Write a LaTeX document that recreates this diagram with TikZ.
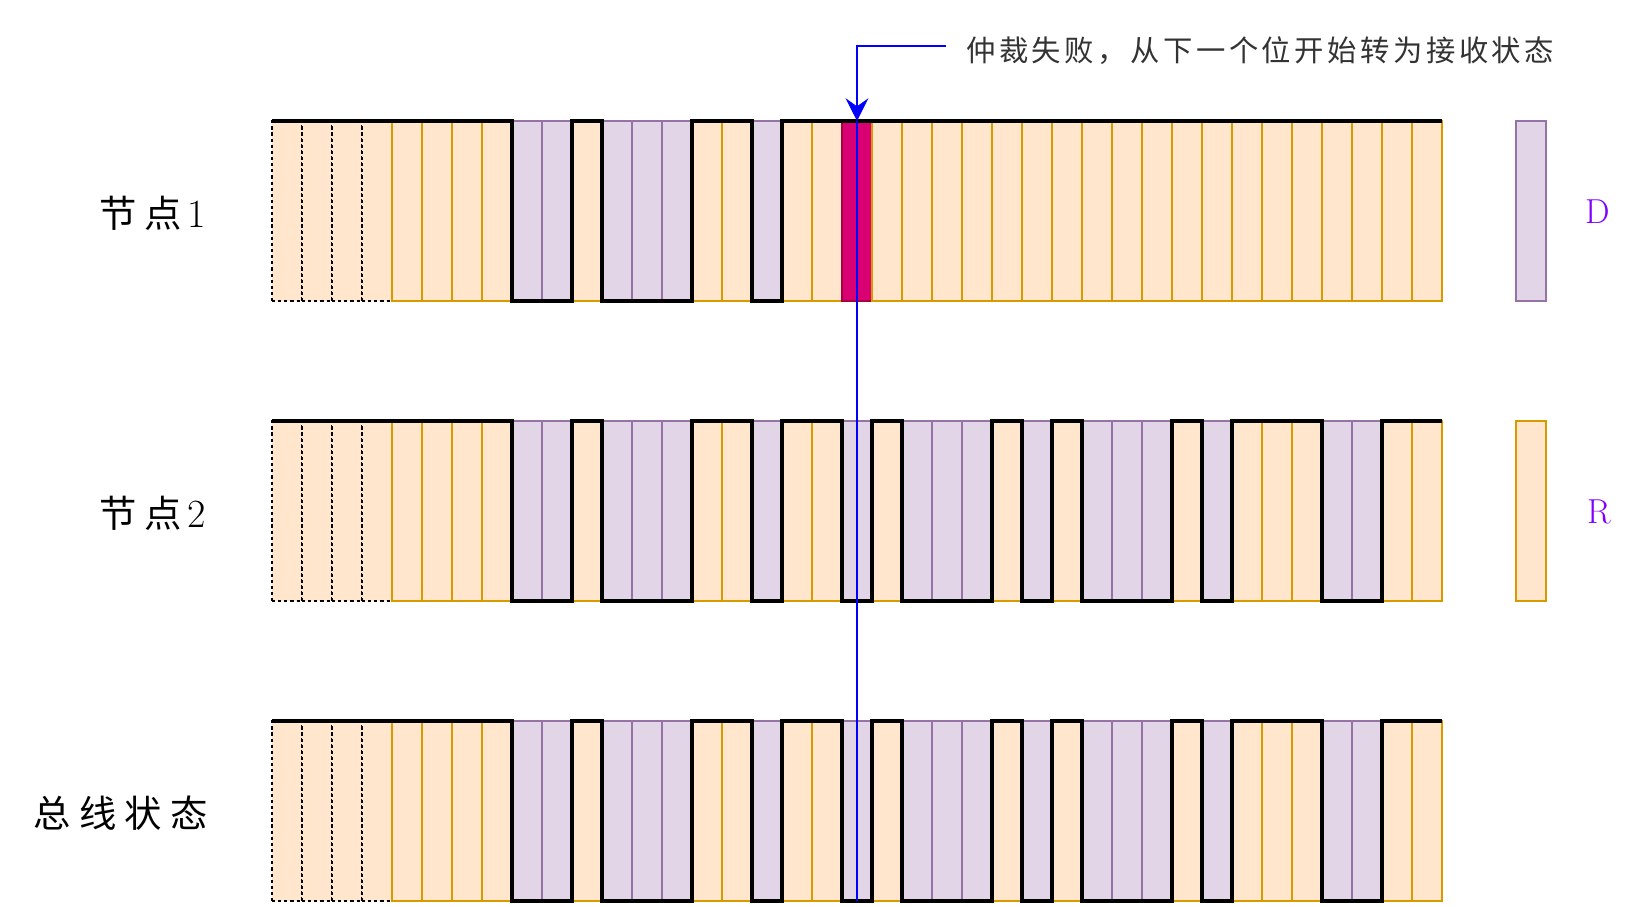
\documentclass[tikz,border=0pt]{standalone}
\usepackage{fontspec}
\newfontfamily\cjklabel{Noto Sans CJK SC}[LetterSpace=22]
\newfontfamily\cjknote{Noto Sans CJK SC}[LetterSpace=12]
\usetikzlibrary{arrows.meta}
\definecolor{xRecFill}{HTML}{FFE6CC}
\definecolor{xRecLine}{HTML}{D79B00}
\definecolor{xDomFill}{HTML}{E1D5E7}
\definecolor{xDomLine}{HTML}{9673A6}
\definecolor{xLostFill}{HTML}{D80073}
\definecolor{xLostLine}{HTML}{A50040}
\definecolor{xBlue}{HTML}{0000FF}
\definecolor{xViolet}{HTML}{7F00FF}
\tikzset{
  bitbox/.style={rectangle, minimum width=22.5pt, minimum height=135pt, inner sep=0pt, outer sep=0pt, line width=1.8pt},
  rec/.style={bitbox, fill=xRecFill, draw=xRecLine},
  dom/.style={bitbox, fill=xDomFill, draw=xDomLine},
  lost/.style={bitbox, fill=xLostFill, draw=xLostLine},
  idle/.style={bitbox, fill=xRecFill, draw=black, line width=2.2pt, dash pattern=on 2.4pt off 2.2pt},
  bitcode/.code={\ifcase#1\relax\pgfkeysalso{/tikz/rec}\or\pgfkeysalso{/tikz/dom}\or\pgfkeysalso{/tikz/lost}\or\pgfkeysalso{/tikz/idle}\fi},
  wave/.style={black, line width=2.4pt},
  rowlabel/.style={anchor=east, inner sep=0pt, font=\cjklabel\fontsize{28pt}{33pt}\selectfont},
  note/.style={anchor=west, inner xsep=15pt, inner ysep=0pt, text height=25.5pt, text depth=2.5pt,
               text=black!80, font=\cjknote\fontsize{22pt}{26pt}\selectfont},
  levelname/.style={text=xViolet, inner sep=0pt, font=\fontsize{26pt}{30pt}\selectfont},
  flag/.style={-{Stealth[length=17pt, width=17pt, inset=6pt]}, xBlue, line width=1.9pt},
  cut/.style={xBlue, line width=1.9pt},
}
% 0 = recessive, 1 = dominant, 2 = lost bit, 3 = idle
\newcommand{\nodeonebits}{3,3,3,3,0,0,0,0,1,1,0,1,1,1,0,0,1,0,0,2,0,0,0,0,0,0,0,0,0,0,0,0,0,0,0,0,0,0,0}
\newcommand{\busbits}{3,3,3,3,0,0,0,0,1,1,0,1,1,1,0,0,1,0,0,1,0,1,1,1,0,1,0,1,1,1,0,1,0,0,0,1,1,0,0}
\newcommand{\nodenum}[1]{\hspace{4pt}{\rmfamily\fontsize{30pt}{34pt}\selectfont #1}}

\begin{document}
\begin{tikzpicture}[x=0.75pt, y=-0.75pt]
    \useasboundingbox (0,0) rectangle (1626,906);
    \foreach \bc [count=\i from 0] in \nodeonebits
      \node[bitcode=\bc] (n1-\i) at (287+30*\i, 211) {};
    \foreach \bc [count=\i from 0] in \busbits
      \node[bitcode=\bc] (n2-\i) at (287+30*\i, 511) {};
    \foreach \bc [count=\i from 0] in \busbits
      \node[bitcode=\bc] (bus-\i) at (287+30*\i, 811) {};
    \draw[wave] (n1-0.north west) foreach \bc [count=\i from 0] in \nodeonebits
      { -- (272+30*\i, {121+180*(\bc==1)}) -- (302+30*\i, {121+180*(\bc==1)}) };
    \draw[wave] (n2-0.north west) foreach \bc [count=\i from 0] in \busbits
      { -- (272+30*\i, {421+180*(\bc==1)}) -- (302+30*\i, {421+180*(\bc==1)}) };
    \draw[wave] (bus-0.north west) foreach \bc [count=\i from 0] in \busbits
      { -- (272+30*\i, {721+180*(\bc==1)}) -- (302+30*\i, {721+180*(\bc==1)}) };
    \node[rowlabel] (lab1) at (206,213) {节点\nodenum{1}};
    \node[rowlabel] (lab2) at (206,513) {节点\nodenum{2}};
    \node[rowlabel] (lab3) at (208,813) {总线状态};
    \node[dom] (keyD) at (1531,211) {};
    \node[rec] (keyR) at (1531,511) {};
    \node[levelname] (D) at (1598,212) {D};
    \node[levelname] (R) at (1599,512) {R};
    \node[note] (lost) at (946,46) {仲裁失败，从下一个位开始转为接收状态};
    \draw[flag] (lost.west) -| (n1-19.north);
    \draw[cut] (n1-19.north) -- (bus-19.south);
\end{tikzpicture}
\end{document}
